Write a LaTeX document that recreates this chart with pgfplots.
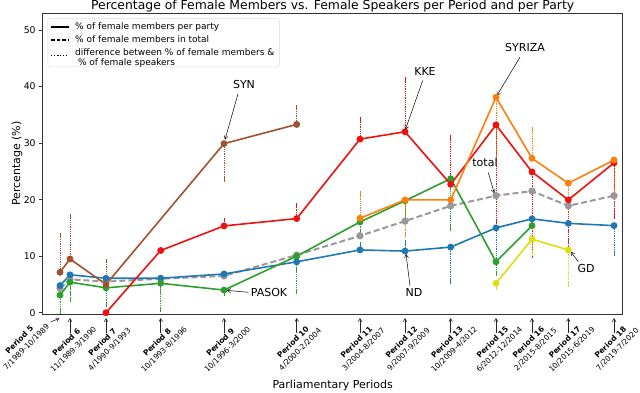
\documentclass[border=0pt]{standalone}
\usepackage{fontspec}
\setmainfont{DejaVu Sans}
\usepackage{pgfplots}
\pgfplotsset{compat=1.18}
\usetikzlibrary{arrows.meta}

\definecolor{ndblue}{HTML}{1F77B4}
\definecolor{pasokgreen}{HTML}{2CA02C}
\definecolor{kkered}{HTML}{EE1111}
\definecolor{syrorange}{HTML}{FF7F0E}
\definecolor{synbrown}{HTML}{A0522D}
\definecolor{gdyellow}{HTML}{DEDE12}
\definecolor{totgray}{HTML}{999999}

\pgfplotsset{
  party/.style={#1, line width=1.6pt, mark=*, mark size=2.6pt,
    mark options={solid, fill=#1}, forget plot,
    error bars/y dir=both, error bars/y explicit,
    error bars/error bar style={#1, line width=0.7pt, dash pattern=on 0.9pt off 0.9pt},
    error bars/error mark options={#1, solid, line width=0.8pt, mark size=2.4pt}},
}

\newcommand{\per}[2]{\textbf{Period #1}\\#2}

\begin{document}
\begin{tikzpicture}
\begin{axis}[
  name=ax, scale only axis, width=580pt, height=300.7pt,
  xmin=42.7, xmax=622.7, ymin=-0.23, ymax=52.95,
  xtick=\empty, ytick={0,10,20,30,40,50},
  ytick pos=left, tick align=outside, major tick length=3.5pt,
  tick style={black!80, line width=0.7pt},
  axis line style={black!80, line width=0.8pt},
  tick label style={font=\fontsize{9.3}{11}\selectfont},
  /pgf/number format/assume math mode=true,
  clip=false,
  legend style={at={(axis description cs:0.0086,0.983)}, anchor=north west,
    draw=black!15, rounded corners=2pt, font=\fontsize{9}{10}\selectfont,
    row sep=0pt, column sep=4pt, inner xsep=3pt, inner ysep=2pt,
    nodes={inner ysep=2.3pt}},
  legend cell align=left,
]
\addlegendimage{black, line width=1.2pt}
\addlegendentry{\% of female members per party}
\addlegendimage{black, line width=1.2pt, dash pattern=on 3.5pt off 2pt}
\addlegendentry{\% of female members in total}
\addlegendimage{black, line width=1.0pt, dash pattern=on 1pt off 2pt}
\addlegendentry{\begin{tabular}{@{}l@{}}difference between \% of female members \&\\ \ \% of female speakers\end{tabular}}

% total (dashed)
\addplot[party=totgray, line width=2pt, dash pattern=on 6pt off 3pt] coordinates {
  (60,4.3) (70,5.9) (106,5.5) (160.7,6.0) += (0,0) -= (0,2.3) (224,6.5)
  (296.7,10.2) (360,13.6) (405,16.2) (450.7,18.9) += (0,0) -= (0,4.1)
  (496,20.7) (532,21.5) (568.3,18.9) (614,20.7) += (0,0) -= (0,2.7)};

% ND
\addplot[party=ndblue] coordinates {
  (60,4.8) += (0,0) -= (0,0.8) (70,6.7) += (0,0) -= (0,3.3) (106,6.1) (160.7,6.1) (224,6.85)
  (296.7,9.0) += (0,0) -= (0,1.3) (360,11.1) += (0,0.9) -= (0,0) (405,10.9) += (0,1.5) -= (0,0)
  (450.7,11.6) += (0,0) -= (0,6.1) (496,15.0) += (0,0) -= (0,5.7) (532,16.6) += (0,0) -= (0,5.1)
  (568.3,15.8) += (0,0) -= (0,3.1) (614,15.4) += (0,0) -= (0,4.9)};

% PASOK
\addplot[party=pasokgreen] coordinates {
  (60,3.1) += (0,0) -= (0,2.9) (70,5.4) += (0,0) -= (0,3.0) (106,4.4) += (0,0) -= (0,3.0)
  (160.7,5.2) += (0,0) -= (0,4.6) (224,4.0) += (0,0) -= (0,0.6) (296.7,10.0) += (0,0) -= (0,6.3)
  (360,16.05) += (0,0) -= (0,1.75) (405,19.8) += (0,0) -= (0,3.0) (450.7,23.7) += (0,0) -= (0,8.9)
  (496,9.0) += (0,0) -= (0,2.0) (532,15.4)};

% KKE
\addplot[party=kkered] coordinates {
  (106,0) (160.7,11.0) (224,15.35) += (0,1.05) -= (0,0) (296.7,16.65) += (0,2.35) -= (0,0)
  (360,30.7) += (0,3.4) -= (0,0) (405,32.0) += (0,9.2) -= (0,0) (450.7,22.7) += (0,8.3) -= (0,0)
  (496,33.2) += (0,0) -= (0,17.0) (532,24.9) += (0,0) -= (0,14.8) (568.3,19.95) += (0,0) -= (0,8.5)
  (614,26.5) += (0,0) -= (0,9.5)};

% SYN
\addplot[party=synbrown] coordinates {
  (60,7.15) += (0,6.45) -= (0,0) (70,9.5) += (0,7.6) -= (0,0) (106,5.0) += (0,4.15) -= (0,0)
  (224,29.9) += (0,0) -= (0,6.3) (296.7,33.3) += (0,3.0) -= (0,0)};

% SYRIZA
\addplot[party=syrorange] coordinates {
  (360,16.7) += (0,4.4) -= (0,0) (405,19.95) += (0,0) -= (0,6.05) (450.7,19.95)
  (496,38.1) += (0,0) -= (0,10.8) (532,27.3) += (0,5.2) -= (0,0) (568.3,22.9) += (0,0) -= (0,3.9)
  (614,27.0) += (0,0) -= (0,5.5)};

% GD
\addplot[party=gdyellow] coordinates {
  (496,5.2) += (0,0) -= (0,0.7) (532,13.0) += (0,0) -= (0,2.5) (568.3,11.1) += (0,0) -= (0,6.2)};

% party annotations
\begin{scope}[font=\fontsize{11}{13}\selectfont, arrows={-Straight Barb[length=3.5pt,width=4pt]}, line width=0.5pt]
\node at (axis cs:244,40.4) {SYN};
\draw (axis cs:238,38.7) -- (axis cs:225,30.6);
\node at (axis cs:425,42.6) {KKE};
\draw (axis cs:422.7,41.06) -- (axis cs:405.3,32.34);
\node at (axis cs:525,46.85) {SYRIZA};
\draw (axis cs:520,45.2) -- (axis cs:496.7,38.35);
\node at (axis cs:485,26.5) {total};
\draw (axis cs:488.3,24.78) -- (axis cs:494.3,21.13);
\node at (axis cs:269,3.58) {PASOK};
\draw (axis cs:248.3,3.61) -- (axis cs:226.7,3.96);
\node at (axis cs:414,3.66) {ND};
\draw (axis cs:410,4.73) -- (axis cs:406,10.4);
\node at (axis cs:586,7.73) {GD};
\draw (axis cs:578.3,9.03) -- (axis cs:570.7,10.8);
\end{scope}

% period ticks
\begin{scope}[arrows={-Straight Barb[length=3pt,width=3.5pt]}, line width=0.6pt, black!85]
\draw (axis cs:51,-1.6) -- (axis cs:59.5,-1.0);
\pgfplotsinvokeforeach{70,106,160.7,224,296.7,360,405,450.7,496,532,568.3,614}{
  \draw (axis cs:#1,-3.59) -- (axis cs:#1,-0.94);}
\end{scope}
\begin{scope}[every node/.style={rotate=45, anchor=center,
    align=center, inner sep=0pt, font=\fontsize{7.6}{10}\selectfont}]
\node at ([xshift=-37pt,yshift=-29.5pt]axis cs:60,-0.23) {\per{5}{7/1989-10/1989}};
\node at ([yshift=-32pt]axis cs:70,-0.23) {\per{6}{11/1989-3/1990}};
\node at ([yshift=-32pt]axis cs:106,-0.23) {\per{7}{4/1990-9/1993}};
\node at ([yshift=-32pt]axis cs:160.7,-0.23) {\per{8}{10/1993-8/1996}};
\node at ([yshift=-32pt]axis cs:224,-0.23) {\per{9}{10/1996-3/2000}};
\node at ([yshift=-32pt]axis cs:296.7,-0.23) {\per{10}{4/2000-2/2004}};
\node at ([yshift=-32pt]axis cs:360,-0.23) {\per{11}{3/2004-8/2007}};
\node at ([yshift=-32pt]axis cs:405,-0.23) {\per{12}{9/2007-9/2009}};
\node at ([yshift=-32pt]axis cs:450.7,-0.23) {\per{13}{10/2009-4/2012}};
\node at ([yshift=-32pt]axis cs:496,-0.23) {\per{15}{6/2012-12/2014}};
\node at ([yshift=-32pt]axis cs:532,-0.23) {\per{16}{2/2015-8/2015}};
\node at ([yshift=-32pt]axis cs:568.3,-0.23) {\per{17}{10/2015-6/2019}};
\node at ([yshift=-32pt]axis cs:614,-0.23) {\per{18}{7/2019-7/2020}};
\end{scope}

\node[font=\fontsize{11}{13}\selectfont, anchor=base] at ([yshift=-74pt]axis description cs:0.5,0) {Parliamentary Periods};
\node[font=\fontsize{11}{13}\selectfont, rotate=90] at ([xshift=-25.7pt]axis description cs:0,0.5) {Percentage (\%)};
\node[font=\fontsize{12.4}{14}\selectfont, anchor=base] at ([yshift=3.5pt]axis description cs:0.5,1) {Percentage of Female Members vs. Female Speakers per Period and per Party};
\end{axis}
\pgfresetboundingbox
\path[use as bounding box] ([shift={(-42.7pt,-78pt)}]ax.south west) rectangle ([shift={(17.3pt,13.3pt)}]ax.north east);
\end{tikzpicture}
\end{document}
